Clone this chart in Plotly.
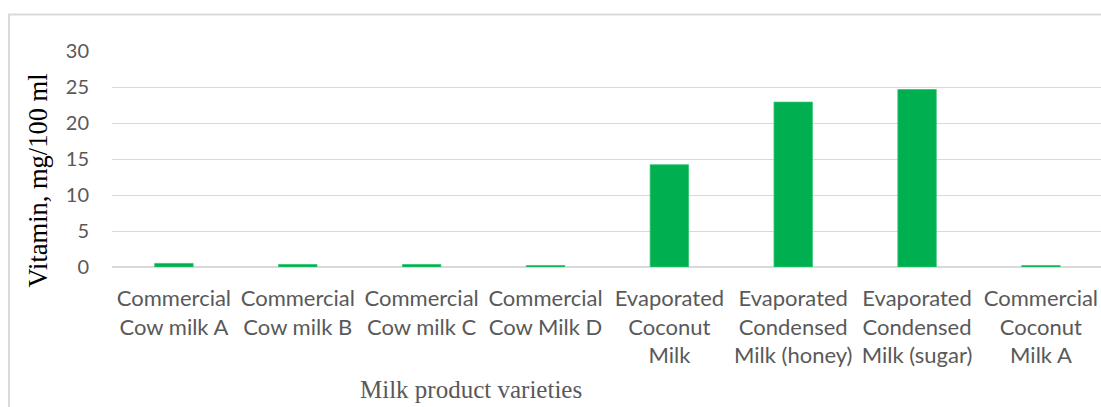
import plotly.graph_objects as go

categories = [
    "Commercial<br>Cow milk A",
    "Commercial<br>Cow milk B",
    "Commercial<br>Cow milk C",
    "Commercial<br>Cow Milk D",
    "Evaporated<br>Coconut<br>Milk",
    "Evaporated<br>Condensed<br>Milk (honey)",
    "Evaporated<br>Condensed<br>Milk (sugar)",
    "Commercial<br>Coconut<br>Milk A",
]
vitamin_values = [0.5, 0.35, 0.35, 0.2, 14.2, 22.9, 24.65, 0.2]
y_tick_values = [0, 5, 10, 15, 20, 25, 30]

W, H = 1101, 407
L, R, T = 112, 0, 51
B = H - T - 216
pw = W - L - R
ph = H - T - B

def px(xp):
    return (xp - L) / pw

def py(yp):
    return (H - B - yp) / ph

fig = go.Figure(
    go.Bar(
        x=list(range(len(categories))),
        y=vitamin_values,
        marker=dict(color="#00B050", line=dict(color="#2fc46f", width=0.8)),
        width=0.31,
    )
)

fig.update_layout(
    width=W,
    height=H,
    margin=dict(l=L, r=R, t=T, b=B, pad=0),
    paper_bgcolor="white",
    plot_bgcolor="white",
    showlegend=False,
    xaxis=dict(
        tickmode="array",
        tickvals=list(range(len(categories))),
        ticktext=categories,
        range=[-0.5, 7.485],
        tickangle=0,
        tickfont=dict(family="Lato", size=22, color="#595959"),
        showgrid=False,
        zeroline=False,
        showline=False,
        ticks="",
        ticklabelstandoff=16,
        ticklabeloverflow="allow",
        fixedrange=True,
    ),
    yaxis=dict(
        range=[0, 30],
        tickvals=y_tick_values,
        tickfont=dict(family="Lato", size=20, color="#595959"),
        showgrid=True,
        gridcolor="#d9d9d9",
        gridwidth=1.4,
        zeroline=True,
        zerolinecolor="#d9d9d9",
        zerolinewidth=1.6,
        showline=False,
        ticks="",
        ticklabelstandoff=22,
        fixedrange=True,
    ),
    shapes=[
        dict(
            type="rect", xref="paper", yref="paper",
            x0=px(9), x1=px(1200), y0=py(500), y1=py(14.5),
            line=dict(color="#d9d9d9", width=2),
            fillcolor="rgba(0,0,0,0)", layer="below",
        )
    ],
    annotations=[
        dict(
            text="Vitamin, mg/100 ml",
            xref="paper", yref="paper",
            x=px(37.5), y=py(181),
            xanchor="center", yanchor="middle",
            textangle=-90, showarrow=False,
            font=dict(family="Liberation Serif", size=26.5, color="#000000"),
        ),
        dict(
            text="Milk product varieties",
            xref="paper", yref="paper",
            x=px(470.5), y=py(389),
            xanchor="center", yanchor="middle",
            showarrow=False,
            font=dict(family="Liberation Serif", size=25, color="#595959"),
        ),
    ],
)

fig.write_html(
    "out.html",
    config={"displayModeBar": False},
    post_script="document.body.style.margin='0';document.body.style.overflow='hidden';",
)
